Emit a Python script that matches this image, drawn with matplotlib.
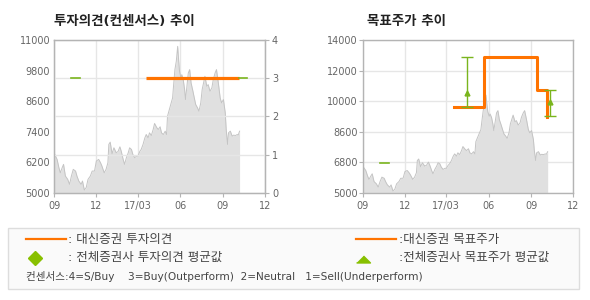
import pandas as pd
import matplotlib.pyplot as plt
from matplotlib.patches import Rectangle
from matplotlib.lines import Line2D

# Latin text in DejaVu, Korean falls back to Noto CJK
plt.rcParams['font.family'] = ['DejaVu Sans', 'Noto Sans CJK KR']

# stock price (days after 2016-09-01)
start = pd.Timestamp('2016-09-01')
price_day = [0, 6, 10, 13, 17, 20, 24, 29, 33, 37, 41, 46, 49, 53, 58, 61, 65, 69, 73, 78,
             82, 87, 91, 96, 100, 103, 108, 112, 116, 118, 121, 125, 129, 134, 138, 142, 145, 149, 152, 156,
             160, 163, 167, 170, 174, 178, 181, 185, 188, 192, 196, 199, 203, 206, 210, 214, 217,
             222, 225, 229, 232, 236, 240, 243, 245, 248, 252, 256, 258, 261, 264, 267, 269, 271, 274, 276, 279,
             282, 284, 287, 290, 293, 296, 300, 303, 306, 310, 313, 317, 320, 323, 326, 330, 333, 337, 341, 344,
             348, 351, 355, 359, 362, 366, 370, 372, 375, 377, 381, 385, 388, 392, 396, 398, 401]
price_val = [6545, 6309, 5980, 5784, 5980, 6114, 5654, 5525, 5329, 5654, 5917, 5850, 5654, 5459, 5329, 5459, 5105, 5200, 5525, 5654,
             5850, 5850, 6243, 6309, 6178, 6049, 5784, 5917, 6178, 6897, 6987, 6530, 6765, 6568, 6621, 6803, 6621, 6309, 6114, 6374,
             6568, 6764, 6699, 6503, 6374, 6439, 6439, 6621, 6699, 6895, 7156, 7287, 7156, 7352, 7247, 7485, 7720,
             7550, 7485, 7590, 7352, 7287, 7418, 7287, 8007, 8203, 8465, 8724, 9183, 9837, 10163, 10751, 10228, 9773, 9508, 9639, 9443,
             9053, 8661, 9183, 9704, 9837, 9313, 8989, 8724, 8465, 8333, 8203, 8530, 9053, 9313, 9574, 9183, 9248, 8989, 9118, 9443,
             9704, 9837, 9313, 8724, 8530, 8661, 8136, 7485, 6897, 7352, 7418, 7222, 7262, 7247, 7287, 7262, 7418]

x_ticks = ['2016-09-01', '2016-12-01', '2017-03-01', '2017-06-01', '2017-09-01', '2017-12-01']
x_labels = ['09', '12', '17/03', '06', '09', '12']

left_yticks = [5000, 6200, 7400, 8600, 9800, 11000]
opinion_ticks = [0, 1, 2, 3, 4]

# 대신증권 투자의견
daishin_op_dates = ['2017-03-18', '2017-10-06']
daishin_op_vals = [3, 3]
# 전체증권사 투자의견 평균값 (short segments)
cons_op_segments = [('2016-10-07', '2016-10-27', 3), ('2017-10-06', '2017-10-23', 3)]

# 목표주가 chart
right_ytick_labels = ['5000', '6800', '8600', '10000', '12000', '14000']
target_dates = ['2017-03-18', '2017-05-21', '2017-09-14', '2017-10-06', '2017-10-06']
target_vals = [10040, 13020, 11060, 11060, 9460]
cons_tp_dates = ['2017-04-14', '2017-10-13']
cons_tp_mean = [10860, 10340]
cons_tp_low = [10040, 9520]
cons_tp_high = [13020, 11060]
cons_tp_segment = ('2016-10-07', '2016-10-27', 6740)

ORANGE = '#ff7300'
GREEN = '#7ab51d'
SPINE = '#b4b4b4'
GRID = '#e6e6e6'
TXT = '#666666'
TICK_FS = 7

dates = start + pd.to_timedelta(price_day, unit='D')
xt = pd.to_datetime(x_ticks)

W, H = 590, 300
def fx(px):
    return px / W
def fy(py):
    return 1 - py / H

fig = plt.figure(figsize=(5.9, 3.0), dpi=100)


def style_axes(ax):
    for s in ax.spines.values():
        s.set_color(SPINE)
        s.set_linewidth(1)
    ax.set_xlim(xt[0], xt[-1])
    ax.set_xticks(xt)
    ax.set_xticklabels(x_labels)
    ax.tick_params(axis='x', colors=SPINE, labelcolor=TXT, labelsize=TICK_FS, length=3, pad=3)
    ax.grid(axis='x', color=GRID, lw=1)
    ax.set_axisbelow(True)


# ---- left: 투자의견 추이
ax1 = fig.add_axes([fx(54.3), fy(192.7), fx(210.7), (192.7 - 40) / H])
style_axes(ax1)
ax1.fill_between(dates, price_val, 5000, color='#e0e0e0', lw=0)
ax1.plot(dates, price_val, color='#c4c4c4', lw=0.7)
ax1.set_ylim(5000, 11000)
ax1.set_yticks(left_yticks)
ax1.set_yticklabels([str(v) for v in left_yticks])
ax1.tick_params(axis='y', length=0, pad=3, labelcolor=TXT, labelsize=TICK_FS)

ax1r = ax1.twinx()
for s in ax1r.spines.values():
    s.set_color(SPINE)
ax1r.set_ylim(0, 4)
ax1r.set_yticks(opinion_ticks)
ax1r.tick_params(axis='y', colors=SPINE, labelcolor=TXT, labelsize=TICK_FS, length=3, pad=2)
ax1r.grid(axis='y', color=GRID, lw=1)
ax1r.plot(pd.to_datetime(daishin_op_dates), daishin_op_vals, color=ORANGE, lw=2.3, solid_capstyle='butt')
for d0, d1, v in cons_op_segments:
    ax1r.plot(pd.to_datetime([d0, d1]), [v, v], color=GREEN, lw=1.2)
ax1r.set_xlim(xt[0], xt[-1])

fig.text(fx(54.3), fy(21), '투자의견(컨센서스) 추이', fontsize=9.7, fontweight='bold',
         color='#222222', va='center', ha='left')

# ---- right: 목표주가 추이
ax2 = fig.add_axes([fx(363), fy(192.7), fx(210), (192.7 - 40) / H])
style_axes(ax2)
ax2.set_ylim(5000, 14000)
ypos = [5000 + i * 1800 for i in range(len(right_ytick_labels))]
ax2.set_yticks(ypos)
ax2.set_yticklabels(right_ytick_labels)
ax2.tick_params(axis='y', colors=SPINE, labelcolor=TXT, labelsize=TICK_FS, length=3, pad=1)
ax2.grid(axis='y', color=GRID, lw=1)
ax2.fill_between(dates, price_val, 5000, color='#e0e0e0', lw=0)
ax2.plot(dates, price_val, color='#c4c4c4', lw=0.7)
ax2.plot(pd.to_datetime(target_dates), target_vals, color=ORANGE, lw=2.2, drawstyle='steps-post')
tp_d = pd.to_datetime(cons_tp_dates)
yerr = [[m - lo for m, lo in zip(cons_tp_mean, cons_tp_low)],
        [hi - m for m, hi in zip(cons_tp_mean, cons_tp_high)]]
ax2.errorbar(tp_d, cons_tp_mean, yerr=yerr, fmt='none', ecolor=GREEN, elinewidth=1, capsize=4, capthick=1)
ax2.plot(tp_d, cons_tp_mean, ls='none', marker='^', ms=3.5, color=GREEN)
ax2.plot(pd.to_datetime(list(cons_tp_segment[:2])), [cons_tp_segment[2]] * 2, color=GREEN, lw=1.2)

fig.text(fx(367), fy(21), '목표주가 추이', fontsize=9.7, fontweight='bold',
         color='#222222', va='center', ha='left')

# ---- legend box
fig.patches.append(Rectangle((fx(8.3), fy(289)), fx(579.3 - 8.3), (289 - 228.3) / H,
                             transform=fig.transFigure, facecolor='#fafafa', edgecolor='#dddddd', lw=1))
LT = dict(fontsize=9, color='#444444', va='center', ha='left')
fig.lines.append(Line2D([fx(26), fx(65.7)], [fy(239.3)] * 2, transform=fig.transFigure, color=ORANGE, lw=1.6))
fig.text(fx(68), fy(239.3), ': 대신증권 투자의견', **LT)
fig.lines.append(Line2D([fx(356), fx(395.7)], [fy(239.3)] * 2, transform=fig.transFigure, color=ORANGE, lw=1.6))
fig.text(fx(399), fy(239.3), ':대신증권 목표주가', **LT)
fig.lines.append(Line2D([fx(35)], [fy(257.7)], transform=fig.transFigure, ls='none',
                        marker='D', ms=7, color='#88c000'))
fig.text(fx(68), fy(257.7), ': 전체증권사 투자의견 평균값', **LT)
fig.lines.append(Line2D([fx(362.7)], [fy(259)], transform=fig.transFigure, ls='none',
                        marker=[(-1, -0.5), (1, -0.5), (0, 0.5)], ms=10, color='#88c000'))
fig.text(fx(399), fy(257.7), ':전체증권사 목표주가 평균값', **LT)
fig.text(fx(26), fy(276.7), '컨센서스:4=S/Buy    3=Buy(Outperform)  2=Neutral   1=Sell(Underperform)',
         fontsize=7.6, color='#444444', va='center', ha='left')

fig.savefig('out.png', dpi=100, facecolor='white')
